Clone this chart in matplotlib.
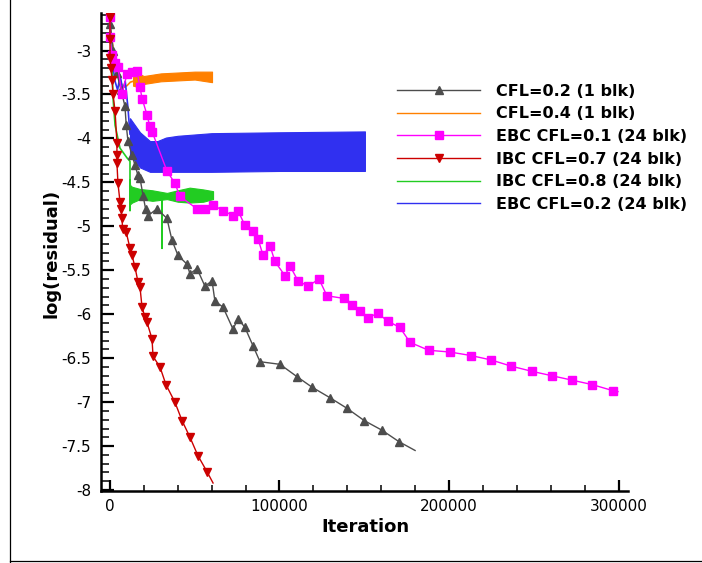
import matplotlib
matplotlib.use("Agg")
import matplotlib.pyplot as plt
from matplotlib.lines import Line2D
from matplotlib.ticker import MultipleLocator, FixedLocator

# ---------------- data (iterations in thousands) ----------------
gray_x = [0, 2, 4, 6.5, 8.8, 9.6, 10.6, 13, 14.7, 16.5, 17.7, 19.5, 21, 22.4, 27.7, 33.6, 36.6,
          40.1, 45.4, 47.2, 51.3, 56.0, 60.2, 61.9, 66.7, 72.6, 75.5, 79.6, 84.4, 88.5,
          100.3, 110.3, 119.2, 129.8, 139.8, 150.0, 160.5, 170.5, 180.0]
gray_y = [-2.7, -3.0, -3.25, -3.45, -3.63, -3.85, -4.03, -4.19, -4.30, -4.42, -4.45, -4.65, -4.80,
          -4.88, -4.80, -4.91, -5.16, -5.33, -5.43, -5.54, -5.48, -5.68, -5.62, -5.85, -5.92,
          -6.17, -6.05, -6.15, -6.36, -6.54, -6.57, -6.71, -6.83, -6.95, -7.07, -7.21, -7.32,
          -7.45, -7.55]

orange_x = [0, 2, 4, 6, 8, 10, 12, 13.6]
orange_y = [-2.7, -3.0, -3.2, -3.35, -3.42, -3.40, -3.36, -3.35]
orange_band_x = [13.6, 17.7, 20, 30, 40, 50, 60.2]
orange_band_hi = [-3.30, -3.27, -3.29, -3.26, -3.25, -3.24, -3.24]
orange_band_lo = [-3.40, -3.42, -3.38, -3.35, -3.34, -3.33, -3.36]

mag_x = [0, 0, 1.2, 3.0, 4.7, 7.0, 10.0, 13.0, 15.9, 17.7, 19.0, 21.8, 23.5, 25.0, 33.6, 38.3,
         41.3, 51.3, 56.0, 60.8, 66.7, 72.6, 75.5, 79.6, 84.4, 87.3, 90.3, 94.4, 97.3, 103.2,
         106.2, 110.9, 116.8, 123.3, 128.0, 138.0, 142.8, 147.5, 152.0, 158.0, 164.0, 171.0,
         177.0, 188.0, 200.6, 213.0, 224.8, 236.6, 249.0, 260.8, 272.6, 284.4, 296.8, 299.7]
mag_y = [-2.62, -2.85, -3.05, -3.14, -3.19, -3.50, -3.27, -3.24, -3.23, -3.42, -3.55, -3.73,
         -3.86, -3.93, -4.37, -4.51, -4.66, -4.80, -4.80, -4.76, -4.82, -4.88, -4.82, -4.99,
         -5.05, -5.14, -5.33, -5.22, -5.40, -5.56, -5.45, -5.62, -5.68, -5.60, -5.79, -5.82,
         -5.90, -5.96, -6.04, -5.99, -6.08, -6.15, -6.32, -6.41, -6.43, -6.47, -6.52, -6.59,
         -6.65, -6.70, -6.75, -6.80, -6.87, -6.88]

red_x = [0, 0, 0, 0.5, 1.2, 1.8, 3.0, 4.1, 4.1, 4.1, 4.7, 5.9, 6.5, 7.0, 7.5, 9.5, 11.8, 13.0,
         14.7, 16.5, 17.7, 18.9, 20.6, 21.8, 24.8, 25.4, 29.5, 33.0, 38.3, 42.5, 47.2, 51.9,
         57.2, 60.8]
red_y = [-2.62, -2.87, -3.08, -3.20, -3.33, -3.50, -3.69, -4.05, -4.19, -4.28, -4.51, -4.72,
         -4.80, -4.90, -5.03, -5.06, -5.25, -5.33, -5.46, -5.63, -5.69, -5.92, -6.03, -6.09,
         -6.28, -6.48, -6.60, -6.80, -7.00, -7.21, -7.40, -7.61, -7.79, -7.92]

green_x = [0, 1.2, 1.8, 3.0, 5.9, 10.0, 11.8, 11.8, 11.8, 12.3, 30.7, 30.7, 30.7, 31.2]
green_y = [-2.7, -3.16, -3.54, -3.85, -4.11, -4.22, -4.26, -4.82, -4.47, -4.65, -4.65, -5.25,
           -4.65, -4.65]
green_band_x = [11.8, 13, 17.7, 25, 33.6, 40, 47, 55, 60.8]
green_band_hi = [-4.53, -4.55, -4.575, -4.59, -4.62, -4.59, -4.56, -4.58, -4.60]
green_band_lo = [-4.75, -4.73, -4.69, -4.71, -4.69, -4.72, -4.73, -4.72, -4.69]

blue_x = [0, 0.8, 1.5, 3.0, 4.5, 6.0, 7.5, 9.0, 10.6, 11.8]
blue_y = [-2.7, -2.95, -3.15, -3.35, -3.45, -3.28, -3.45, -3.35, -3.65, -3.95]
blue_band_x = [11.8, 17.7, 23.6, 28, 33, 40, 60, 100, 150.4]
blue_band_hi = [-3.77, -3.93, -4.03, -4.03, -3.99, -3.97, -3.94, -3.93, -3.92]
blue_band_lo = [-4.19, -4.33, -4.38, -4.38, -4.38, -4.38, -4.38, -4.37, -4.37]

labels = ["CFL=0.2 (1 blk)", "CFL=0.4 (1 blk)", "EBC CFL=0.1 (24 blk)",
          "IBC CFL=0.7 (24 blk)", "IBC CFL=0.8 (24 blk)", "EBC CFL=0.2 (24 blk)"]
x_ticks = [0, 100000, 200000, 300000]
y_ticks = [-8, -7.5, -7, -6.5, -6, -5.5, -5, -4.5, -4, -3.5, -3]

K = 1000.0
def sc(v):
    return [a * K for a in v]

c_gray = "#4d4d4d"
c_orange = "#ff8000"
c_mag = "#ff00ff"
c_red = "#cc0000"
c_green = "#22cc22"
c_blue = "#3030f0"

fig = plt.figure(figsize=(7.02, 5.63), dpi=100)
ax = fig.add_axes([101 / 702, 1 - 491 / 563, 527 / 702, 478 / 563])

# bands
ax.fill_between(sc(orange_band_x), orange_band_lo, orange_band_hi, color=c_orange, lw=0.8,
                edgecolor=c_orange, zorder=2)
ax.plot(sc(orange_x), orange_y, color=c_orange, lw=1.2, zorder=2)
ax.fill_between(sc(blue_band_x), blue_band_lo, blue_band_hi, color=c_blue, lw=0.8,
                edgecolor=c_blue, zorder=3)
ax.plot(sc(blue_x), blue_y, color=c_blue, lw=1.2, zorder=3)
ax.fill_between(sc(green_band_x), green_band_lo, green_band_hi, color=c_green, lw=0.8,
                edgecolor=c_green, zorder=3)
ax.plot(sc(green_x), green_y, color=c_green, lw=1.2, zorder=3)

ax.plot(sc(gray_x), gray_y, color=c_gray, lw=1.0, marker="^", ms=5.5,
        markevery=list(range(len(gray_x) - 1)), zorder=4)
ax.plot(sc(mag_x), mag_y, color=c_mag, lw=1.0, marker="s", ms=6,
        markevery=list(range(len(mag_x) - 1)), zorder=5)
ax.plot(sc(red_x), red_y, color=c_red, lw=1.0, marker="v", ms=6,
        markevery=list(range(len(red_x) - 1)), zorder=6)

ax.set_xlim(-5300, 305600)
ax.set_ylim(-8.011, -2.573)

for s in ["top", "right"]:
    ax.spines[s].set_visible(False)
for s in ["left", "bottom"]:
    ax.spines[s].set_linewidth(1.8)

ax.xaxis.set_major_locator(FixedLocator(x_ticks))
ax.xaxis.set_minor_locator(MultipleLocator(20000))
ax.yaxis.set_major_locator(FixedLocator(y_ticks))
ax.yaxis.set_minor_locator(MultipleLocator(0.1))
ax.set_xticklabels([str(v) for v in x_ticks])
ax.set_yticklabels([("%g" % v) for v in y_ticks])

ax.tick_params(axis="y", which="major", direction="in", length=9.5, width=1.6, labelsize=11, pad=7)
ax.tick_params(axis="y", which="minor", direction="in", length=5.5, width=1.1)
ax.tick_params(axis="x", which="major", direction="in", length=8, width=1.6, labelsize=11, pad=6)
ax.tick_params(axis="x", which="minor", direction="in", length=4.3, width=1.1)

ax.set_xlabel("Iteration", fontsize=13, fontweight="bold", va="center")
ax.set_ylabel("log(residual)", fontsize=13, fontweight="bold", va="center")
ax.xaxis.set_label_coords(0.501, (491 - 527) / 478)
ax.yaxis.set_label_coords((52 - 101) / 527, (491 - 253) / 478)

handles = [
    Line2D([], [], color=c_gray, lw=1.0, marker="^", ms=5.5),
    Line2D([], [], color=c_orange, lw=1.0),
    Line2D([], [], color=c_mag, lw=1.0, marker="s", ms=6),
    Line2D([], [], color=c_red, lw=1.0, marker="v", ms=6),
    Line2D([], [], color=c_green, lw=1.0),
    Line2D([], [], color=c_blue, lw=1.0),
]
leg = fig.legend(handles, labels, loc="upper left", bbox_to_anchor=(397 / 702, 1 - 83.5 / 563),
                 frameon=False, borderpad=0, borderaxespad=0, handlelength=5.2,
                 handletextpad=1.0, labelspacing=0.48, numpoints=1,
                 prop={"size": 11.5, "weight": "bold"})

# outer frame lines
fig.add_artist(Line2D([10 / 702, 10 / 702], [0, 1], transform=fig.transFigure, color="black", lw=0.9))
fig.add_artist(Line2D([10 / 702, 1], [2 / 563, 2 / 563], transform=fig.transFigure, color="black", lw=0.9))

fig.savefig("out.png", dpi=100)
